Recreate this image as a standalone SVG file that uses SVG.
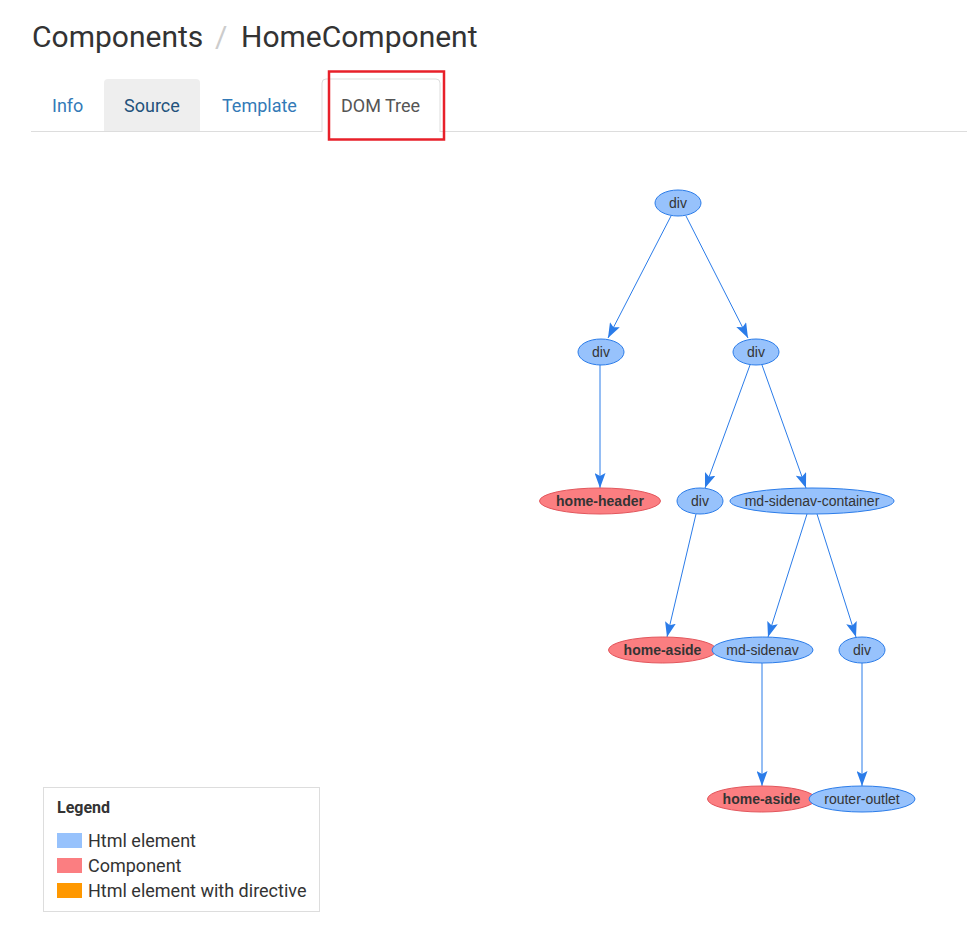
<svg xmlns="http://www.w3.org/2000/svg" width="967" height="926" viewBox="0 0 967 926">
<style>
.h{font-family:Roboto,"Liberation Sans",sans-serif;font-size:30px;fill:#333}
.tab{font-family:Roboto,"Liberation Sans",sans-serif;font-size:18px}
.n{fill:#97c2fc;stroke:#2b7ce9;stroke-width:1}
.c{fill:#fb7e81;stroke:#e2565c;stroke-width:1}
.t{font-family:"Liberation Sans",Arial,sans-serif;font-size:14px;fill:#343434;text-anchor:middle}
.b{font-weight:bold}
.e{stroke:#2b7ce9;stroke-width:1;fill:none;marker-end:url(#ar)}
.lg{font-family:Roboto,"Liberation Sans",sans-serif;font-size:18px;fill:#333}
</style>
<defs>
<marker id="ar" viewBox="0 0 15 11" refX="15" refY="5.5" markerWidth="15" markerHeight="11" markerUnits="userSpaceOnUse" orient="auto">
<path d="M0,0 L15,5.5 L0,11 L3,5.5 Z" fill="#2b7ce9"/>
</marker>
</defs>
<rect width="967" height="926" fill="#fff"/>
<g id="header">
<text class="h" x="32" y="47">Components</text>
<text class="h" x="215" y="47" style="fill:#ccc">/</text>
<text class="h" x="241" y="47">HomeComponent</text>
</g>
<g id="tabs">
<line x1="31" y1="131.5" x2="967" y2="131.5" stroke="#ddd"/>
<path d="M104,131 V83 Q104,79 108,79 H196 Q200,79 200,83 V131 Z" fill="#eee"/>
<path d="M322,132 V83 Q322,79 326,79 H436 Q440,79 440,83 V132" fill="#fff" stroke="#ddd"/>
<rect x="329" y="71.5" width="115" height="68" fill="none" stroke="#e8202a" stroke-width="2.5"/>
<text class="tab" x="52" y="112" fill="#337ab7">Info</text>
<text class="tab" x="124" y="112" fill="#23527c">Source</text>
<text class="tab" x="222" y="112" fill="#337ab7">Template</text>
<text class="tab" x="341" y="112" fill="#555">DOM Tree</text>
</g>
<g id="edges">
<line class="e" x1="671" y1="216" x2="608" y2="338"/>
<line class="e" x1="686" y1="216" x2="748" y2="338"/>
<line class="e" x1="600" y1="365" x2="600" y2="488"/>
<line class="e" x1="750" y1="365" x2="705" y2="488"/>
<line class="e" x1="762" y1="365" x2="806" y2="488"/>
<line class="e" x1="696" y1="514" x2="667" y2="637"/>
<line class="e" x1="807" y1="514" x2="768" y2="637"/>
<line class="e" x1="817" y1="514" x2="856" y2="637"/>
<line class="e" x1="762" y1="663" x2="762" y2="786"/>
<line class="e" x1="862" y1="663" x2="862" y2="786"/>
</g>
<g id="n1"><ellipse class="n" cx="678" cy="203" rx="23" ry="13"/><text class="t" x="678" y="208">div</text></g>
<g id="n2"><ellipse class="n" cx="601" cy="352" rx="23" ry="13"/><text class="t" x="601" y="357">div</text></g>
<g id="n3"><ellipse class="n" cx="756" cy="352" rx="23" ry="13"/><text class="t" x="756" y="357">div</text></g>
<g id="n4"><ellipse class="c" cx="600" cy="501" rx="60.5" ry="13"/><text class="t b" x="600" y="506">home-header</text></g>
<g id="n5"><ellipse class="n" cx="700" cy="501" rx="23" ry="13"/><text class="t" x="700" y="506">div</text></g>
<g id="n6"><ellipse class="n" cx="812" cy="501" rx="82" ry="13"/><text class="t" x="812" y="506">md-sidenav-container</text></g>
<g id="n7"><ellipse class="c" cx="662.5" cy="650" rx="54" ry="13"/><text class="t b" x="662.5" y="655">home-aside</text></g>
<g id="n8"><ellipse class="n" cx="762.5" cy="650" rx="50.5" ry="13"/><text class="t" x="762.5" y="655">md-sidenav</text></g>
<g id="n9"><ellipse class="n" cx="862" cy="650" rx="23" ry="13"/><text class="t" x="862" y="655">div</text></g>
<g id="n10"><ellipse class="c" cx="761.5" cy="799" rx="54" ry="13"/><text class="t b" x="761.5" y="804">home-aside</text></g>
<g id="n11"><ellipse class="n" cx="862" cy="799" rx="53" ry="13"/><text class="t" x="862" y="804">router-outlet</text></g>
<g id="legend">
<rect x="43.5" y="787.5" width="276" height="124" fill="#fff" stroke="#ddd"/>
<text class="lg" x="57" y="813" style="font-size:16px;font-weight:bold">Legend</text>
<rect x="57" y="833" width="25" height="15" fill="#97c2fc"/>
<rect x="57" y="858" width="25" height="15" fill="#fb7e81"/>
<rect x="57" y="883" width="25" height="15" fill="#ff9800"/>
<text class="lg" x="88" y="847">Html element</text>
<text class="lg" x="88" y="872">Component</text>
<text class="lg" x="88" y="897">Html element with directive</text>
</g>
</svg>
